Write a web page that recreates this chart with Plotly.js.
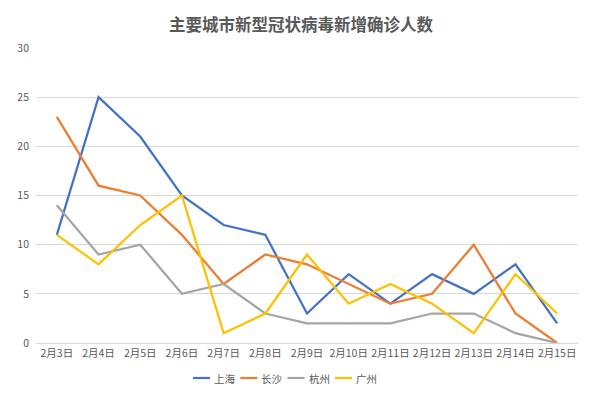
<!DOCTYPE html>
<html><head><meta charset="utf-8">
<script src="https://cdn.plot.ly/plotly-3.0.1.min.js"></script>
<style>html,body{margin:0;padding:0;background:#fff;}#chart{width:602px;height:393px;}</style>
</head><body><div id="chart"></div>
<script>
const categories = ['2月3日','2月4日','2月5日','2月6日','2月7日','2月8日','2月9日','2月10日','2月11日','2月12日','2月13日','2月14日','2月15日'];
const shanghai = [11, 25, 21, 15, 12, 11, 3, 7, 4, 7, 5, 8, 2];
const changsha = [23, 16, 15, 11, 6, 9, 8, 6, 4, 5, 10, 3, 0];
const hangzhou = [14, 9, 10, 5, 6, 3, 2, 2, 2, 3, 3, 1, 0];
const guangzhou = [11, 8, 12, 15, 1, 3, 9, 4, 6, 4, 1, 7, 3];
const seriesNames = ['上海','长沙','杭州','广州'];
const colors = ['#4472C4','#ED7D31','#A5A5A5','#FFC000'];
const data = [shanghai, changsha, hangzhou, guangzhou].map((v,i)=>({
  type:'scatter', mode:'lines', name:seriesNames[i], x:categories, y:v,
  line:{color:colors[i], width:2.25}, showlegend:false
}));
const font = {family:'"Noto Sans CJK SC", "Noto Sans", sans-serif', color:'#595959'};

// compact legend (Excel style): short line + label
const M = {l:36, r:24, t:48, b:50};
const plotW = 602 - M.l - M.r, plotH = 393 - M.t - M.b;
const legY = (393 - M.b - 378) / plotH;
const shapes = [], annotations = [];
seriesNames.forEach((n,i)=>{
  const x0 = 193 + i*47.3;
  shapes.push({type:'line', xref:'paper', yref:'paper', x0:(x0-M.l)/plotW, x1:(x0+17-M.l)/plotW, y0:legY, y1:legY, line:{color:colors[i], width:2.25}});
  annotations.push({xref:'paper', yref:'paper', x:(x0+19-M.l)/plotW, y:legY, xanchor:'left', yanchor:'middle', text:n, showarrow:false, font:{size:10.5, color:'#595959'}});
});

const layout = {
  width:602, height:393,
  margin:{l:M.l, r:M.r, t:M.t, b:M.b, autoexpand:false},
  paper_bgcolor:'#fff', plot_bgcolor:'#fff',
  font:Object.assign({size:10}, font),
  title:{text:'<b>主要城市新型冠状病毒新增确诊人数</b>', x:0.5, xanchor:'center', y:0.935, yanchor:'middle', font:Object.assign({}, font, {size:16.5})},
  xaxis:{type:'category', range:[-0.5,12.5], showgrid:false, showline:true, linecolor:'#D9D9D9', linewidth:1, ticks:'', tickfont:{size:10.5, color:'#595959'}, fixedrange:true, automargin:false},
  yaxis:{range:[0,30], dtick:5, showgrid:true, gridcolor:'#D9D9D9', gridwidth:1, zeroline:false, showline:false, ticks:'', ticklabelstandoff:6, tickfont:{size:10.5, color:'#595959'}, automargin:false},
  showlegend:false,
  shapes:shapes, annotations:annotations
};
Plotly.newPlot('chart', data, layout, {displayModeBar:false, staticPlot:true});
</script></body></html>
